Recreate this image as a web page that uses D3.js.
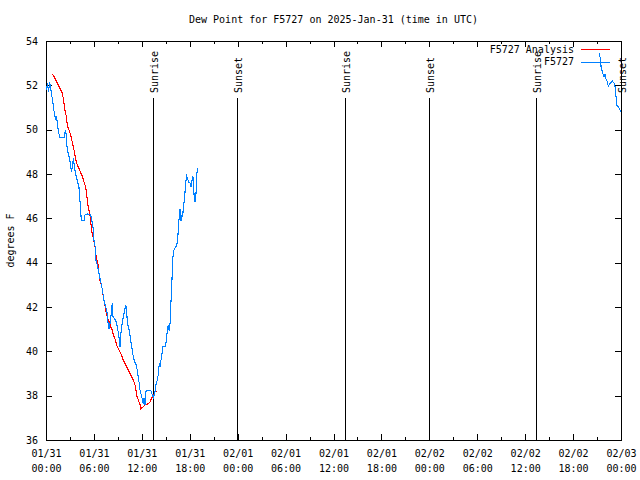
<!DOCTYPE html>
<html>
<head>
<meta charset="utf-8">
<script src="https://cdn.jsdelivr.net/npm/d3@7"></script>
<style>
  body { margin: 0; background: #fff; }
  svg { display: block; }
  text { font-family: "DejaVu Sans Mono", "Liberation Mono", monospace; font-size: 10px; fill: #000; }
</style>
</head>
<body>
<svg id="chart" width="640" height="480"></svg>
<script>
// ---- data (hours since 2025-01-31 00:00 UTC) ----
const titleText = "Dew Point for F5727 on 2025-Jan-31 (time in UTC)";
const yLabel = "degrees F";
const seriesNames = ["F5727 Analysis", "F5727"];

const analysisHours = [0.79,1.00,1.21,1.42,1.63,1.84,2.04,2.17,2.25,2.34,2.47,2.59,2.67,2.79,2.97,3.09,3.22,3.38,3.59,3.72,3.92,4.13,4.35,4.55,4.76,4.97,5.10,5.17,5.30,5.47,5.60,5.67,5.80,5.92,6.01,6.14,6.22,6.30,6.42,6.55,6.64,6.76,6.92,7.05,7.18,7.35,7.48,7.68,7.89,8.10,8.30,8.43,8.60,8.73,8.93,9.14,9.35,9.55,9.68,9.89,10.11,10.31,10.52,10.73,10.93,11.14,11.27,11.36,11.56,11.77,11.86,11.98,12.18,12.40,12.61,12.81,13.02,13.24,13.44,13.65,13.86];
const analysisValues = [52.5,52.4,52.25,52.1,51.95,51.8,51.65,51.4,51.2,50.9,50.75,50.45,50.2,50.05,49.9,49.75,49.55,49.3,48.95,48.65,48.4,48.25,48.05,47.9,47.65,47.4,47.1,46.8,46.5,46.2,45.9,45.55,45.3,45.1,44.95,44.7,44.5,44.2,44.05,43.9,43.5,43.2,43.0,42.8,42.45,42.15,41.85,41.55,41.35,41.1,40.95,40.75,40.6,40.45,40.2,40.05,39.9,39.75,39.6,39.45,39.3,39.15,39.0,38.85,38.7,38.5,38.25,38.0,37.8,37.6,37.4,37.45,37.5,37.6,37.6,37.65,37.7,37.9,38.0,38.2,38.2];

const obsHours = [0.06,0.19,0.31,0.44,0.56,0.66,0.84,1.00,1.21,1.34,1.42,1.63,1.75,2.25,2.47,2.57,2.67,2.88,3.09,3.17,3.29,3.42,3.57,3.72,3.92,4.13,4.26,4.35,4.42,4.76,4.85,5.17,5.60,5.80,5.92,6.01,6.22,6.26,6.42,6.64,6.85,7.05,7.26,7.48,7.68,7.76,7.89,8.08,8.30,8.34,8.43,8.73,8.93,9.14,9.27,9.35,9.55,9.77,9.98,10.11,10.18,10.39,10.52,10.73,10.93,11.14,11.27,11.43,11.56,11.68,11.77,11.98,12.18,12.27,12.40,12.52,12.81,13.11,13.24,13.44,13.52,13.65,13.77,13.94,14.06,14.19,14.28,14.36,14.49,14.61,14.90,15.03,15.11,15.31,15.44,15.53,15.61,15.74,15.82,15.94,16.07,16.24,16.37,16.49,16.57,16.69,16.78,16.90,17.03,17.12,17.19,17.32,17.41,17.49,17.62,17.74,17.82,18.03,18.16,18.24,18.37,18.44,18.53,18.66,18.78,18.87,18.95,
  69.28,69.46,69.50,69.66,69.87,70.00,70.12,70.29,70.41,70.54,70.71,70.91,71.12,71.25,71.34,71.46,71.66,71.87,72.00];
const obsValues = [51.8,52.1,51.7,52.1,52.0,51.65,51.3,50.85,50.45,50.6,50.2,49.8,49.65,49.65,50.0,49.5,49.1,48.8,48.4,48.1,48.3,48.7,48.3,48.0,47.7,47.4,46.75,46.3,45.9,45.9,46.15,46.2,46.15,45.8,45.5,45.0,44.6,44.1,43.9,43.5,43.15,42.8,42.3,42.0,41.7,41.3,41.0,41.4,42.2,41.6,41.55,41.4,41.1,40.65,40.2,40.7,41.3,41.7,42.1,41.8,41.3,41.0,40.7,40.2,39.75,39.5,39.4,39.15,38.8,38.55,38.25,37.95,37.65,37.9,37.6,38.2,38.25,38.25,38.1,37.9,38.0,38.2,38.5,38.7,38.95,39.45,39.3,39.55,39.75,40.2,40.2,40.4,40.7,41.2,40.9,41.25,42.0,42.8,43.8,44.5,44.6,44.7,44.8,45.0,45.55,46.1,46.4,45.9,46.15,46.1,46.45,46.8,47.2,47.6,47.9,47.8,47.65,47.6,47.4,47.6,47.9,47.8,47.1,46.75,47.1,47.9,48.25,
  53.45,53.1,52.85,52.6,52.4,52.5,52.3,52.15,51.95,52.05,52.1,52.2,52.1,51.95,51.65,51.1,51.05,50.9,50.8];

const sunriseHours = [13.45, 37.42, 61.40];
const sunsetHours = [23.88, 47.90, 71.97];
const yTicks = [36,38,40,42,44,46,48,50,52,54];
const spanHours = 72;

// ---- layout ----
const L = 46, R = 621, T = 41, B = 440;
const startMs = Date.UTC(2025, 0, 31);
const toDate = h => new Date(startMs + h * 3600000);

const svg = d3.select("#chart");
const x = d3.scaleUtc().domain([toDate(0), toDate(spanHours)]).range([L, R]);
const y = d3.scaleLinear().domain([36, 54]).range([B, T]);

// title
svg.append("text").attr("x", (L + R) / 2).attr("y", 23).attr("text-anchor", "middle").text(titleText);
// y label
svg.append("text").attr("transform", `translate(14,${(T + B) / 2}) rotate(-90)`).attr("text-anchor", "middle").text(yLabel);

// axes
const fmt = d3.utcFormat("%m/%d %H:%M");
const majorTicks = d3.utcHour.every(6).range(toDate(0), toDate(spanHours + 0.01));
const gx = svg.append("g").attr("transform", `translate(0,${B})`)
  .call(d3.axisBottom(x).tickValues(majorTicks).tickSize(-6).tickFormat(fmt));
gx.select(".domain").remove();
gx.selectAll("text").each(function(d) {
  const t = d3.select(this);
  const parts = fmt(d).split(" ");
  t.text(null).attr("y", null).attr("dy", null);
  t.append("tspan").attr("x", 0).attr("y", 17).text(parts[0]);
  t.append("tspan").attr("x", 0).attr("y", 32).text(parts[1]);
});
const gxt = svg.append("g").attr("transform", `translate(0,${T})`)
  .call(d3.axisTop(x).tickValues(majorTicks).tickSize(-6).tickFormat(""));
gxt.select(".domain").remove();

const minorTicks = d3.range(3, spanHours, 6).map(toDate);
svg.append("g").selectAll("line.mb").data(minorTicks).join("line")
  .attr("x1", d => Math.round(x(d)) + 0.5).attr("x2", d => Math.round(x(d)) + 0.5)
  .attr("y1", B).attr("y2", B - 3).attr("stroke", "#000");
svg.append("g").selectAll("line.mt").data(minorTicks).join("line")
  .attr("x1", d => Math.round(x(d)) + 0.5).attr("x2", d => Math.round(x(d)) + 0.5)
  .attr("y1", T).attr("y2", T + 3).attr("stroke", "#000");

const gy = svg.append("g").attr("transform", `translate(${L},0)`)
  .call(d3.axisLeft(y).tickValues(yTicks).tickSize(-6).tickPadding(8).tickFormat(d3.format("d")));
gy.select(".domain").remove();
const gyr = svg.append("g").attr("transform", `translate(${R},0)`)
  .call(d3.axisRight(y).tickValues(yTicks).tickSize(-6).tickFormat(""));
gyr.select(".domain").remove();

svg.selectAll(".tick line").attr("stroke", "#000").attr("shape-rendering", "crispEdges");
svg.selectAll(".tick text").attr("font-family", null).attr("font-size", null).attr("fill", "#000");

// frame
svg.append("rect").attr("x", L + 0.5).attr("y", T + 0.5).attr("width", R - L).attr("height", B - T)
  .attr("fill", "none").attr("stroke", "#000").attr("shape-rendering", "crispEdges");

// sunrise / sunset markers
const events = sunriseHours.map(h => ({h, label: "Sunrise"}))
  .concat(sunsetHours.map(h => ({h, label: "Sunset"})));
const ev = svg.append("g").selectAll("g").data(events).join("g");
ev.append("line")
  .attr("x1", d => Math.round(x(toDate(d.h))) + 0.5).attr("x2", d => Math.round(x(toDate(d.h))) + 0.5)
  .attr("y1", y(51.45)).attr("y2", B).attr("stroke", "#000").attr("shape-rendering", "crispEdges");
ev.append("text")
  .attr("transform", d => `translate(${Math.round(x(toDate(d.h))) + 4.5},${y(51.65)}) rotate(-90)`)
  .attr("text-anchor", "start").text(d => d.label);

// legend
const legend = svg.append("g");
const colors = ["#ff0000", "#0080ff"];
seriesNames.forEach((name, i) => {
  const ly = 49 + i * 12.5;
  legend.append("text").attr("x", 574).attr("y", ly).attr("dy", "0.35em").attr("text-anchor", "end").text(name);
  legend.append("line").attr("x1", 581).attr("x2", 610).attr("y1", Math.round(ly) + 0.5).attr("y2", Math.round(ly) + 0.5)
    .attr("stroke", colors[i]).attr("shape-rendering", "crispEdges");
});

// data lines
const line = d3.line().x(d => x(toDate(d[0]))).y(d => y(d[1]));
const analysis = analysisHours.map((h, i) => [h, analysisValues[i]]);
const obs = obsHours.map((h, i) => [h, obsValues[i]]);
// split observations at data gaps
const segments = [];
let cur = [];
obs.forEach((p, i) => {
  if (i > 0 && p[0] - obs[i - 1][0] > 3) { segments.push(cur); cur = []; }
  cur.push(p);
});
segments.push(cur);

svg.append("path").datum(analysis).attr("d", line).attr("fill", "none")
  .attr("stroke", colors[0]).attr("stroke-width", 1.1).attr("shape-rendering", "crispEdges");
svg.append("g").selectAll("path").data(segments).join("path").attr("d", line)
  .attr("fill", "none").attr("stroke", colors[1]).attr("stroke-width", 1.1).attr("shape-rendering", "crispEdges");
</script>
</body>
</html>
